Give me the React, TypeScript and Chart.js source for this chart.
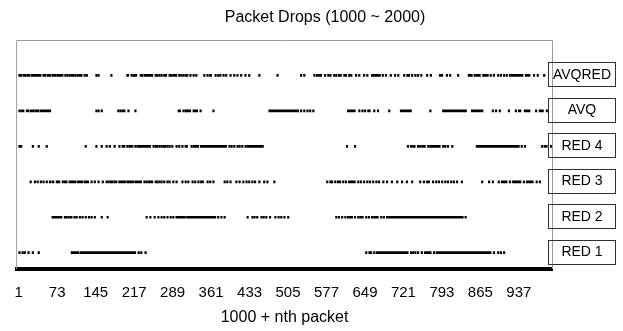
import { useEffect, useRef } from 'react';
import { Chart, registerables } from 'chart.js';

Chart.register(...registerables);

type Drop = number | [number, number];

const chartTitle = 'Packet Drops (1000 ~ 2000)';
const xAxisTitle = '1000 + nth packet';
const tickValues = [1, 73, 145, 217, 289, 361, 433, 505, 577, 649, 721, 793, 865, 937];
const rowLabels = ['AVQRED', 'AVQ', 'RED 4', 'RED 3', 'RED 2', 'RED 1'];

// packet indices (1000 + n) where a drop occurred; [a, b] = run of consecutive drops
const avqredDrops: Drop[] = [[1, 7], [9, 15], [16, 22], [24, 43], [46, 52], [54, 61], [63, 71], [72, 84], 87, 91, 95, 99, 102, 106, 110, 114, 117, 123, 127, 145, 149, 173, [203, 207], 211, 215, [218, 222], [228, 233], [235, 252], 256, 259, 263, 267, [272, 278], 282, 285, [289, 297], 300, 304, 308, 312, 315, 321, 327, 332, 347, 353, [358, 362], 368, 373, 377, 383, 388, 396, 403, 409, 416, 424, 431, 450, 484, 528, 534, 553, 558, [562, 568], 573, 579, [583, 586], 590, 594, [599, 605], 609, 612, 618, 622, 631, 637, 646, 652, [661, 678], 681, 687, 696, 704, 710, 721, 727, 730, 736, 742, 747, 753, 764, 771, 788, 792, 801, 807, 822, [842, 850], 853, [857, 865], 869, [872, 880], 883, 889, 897, 902, 908, 913, [919, 945], 949, [953, 958], 964, 971, 983];
const avqDrops: Drop[] = [[1, 3], [5, 11], [15, 20], [22, 30], [31, 39], [41, 61], 145, 149, 155, 186, 190, [194, 200], 205, 218, [299, 304], 308, 312, [315, 323], 327, [330, 336], 340, 364, [469, 525], 528, 534, 540, 545, 551, [616, 631], 637, 643, 648, [654, 659], 665, 672, 693, [715, 736], 770, [794, 839], [848, 870], 887, 893, 900, 917, 930, [936, 941], 947, [951, 958], 968, 975, [979, 983], 988];
const red4Drops: Drop[] = [[1, 7], 26, 37, 52, 125, 145, 155, 164, 170, 179, 188, [194, 200], 203, [207, 215], 218, [222, 248], 252, 256, 259, 263, 267, 271, 274, 278, 282, 287, 295, 300, 306, [312, 317], 323, [327, 338], [341, 390], 394, 398, 403, 409, 413, 418, 424, 428, [431, 459], 614, 629, 728, 734, [738, 743], 747, 751, [755, 762], 766, [770, 790], 794, 798, 803, 811, [857, 938], 941, 947, 979, [984, 990], 996];
const red3Drops: Drop[] = [22, 30, 35, 41, 46, 52, 58, [63, 67], 71, [74, 78], 82, 86, 89, [95, 108], [110, 121], [123, 132], 136, 142, 149, 157, 164, 168, 172, 175, [179, 185], [188, 201], [203, 216], [218, 231], 235, 239, [243, 252], 256, 259, 263, 267, 272, 278, 282, 289, 295, 306, 312, 317, 325, 330, 336, [341, 347], 353, 358, 364, 385, 390, 396, 407, 413, 420, 426, 431, 437, 442, 450, 459, 465, 478, 577, 583, 586, 592, 597, 601, 607, 612, [618, 631], 635, 640, 646, 652, 657, 663, 669, 674, 682, 689, 698, 708, 717, 726, 736, 751, 758, [764, 770], 775, 781, 786, 792, 798, 803, 809, 814, 820, 829, 867, 880, 887, 898, 904, [908, 915], 919, 925, [928, 941], 945, 951, [955, 964], 969, 975];
const red2Drops: Drop[] = [[63, 82], 86, 89, 93, [97, 101], 104, 108, 114, 119, 125, 131, 136, 142, 155, 166, 239, 246, 254, 261, 267, 272, 278, 284, 289, [295, 313], [315, 370], 373, 379, 385, 428, 437, 441, 446, 454, 458, 463, 470, 480, 486, 491, 497, 504, 594, 599, 605, 611, 616, [620, 626], 629, 635, [639, 646], 650, 655, 661, [665, 674], 678, 683, 689, [693, 833], 836];
const red1Drops: Drop[] = [[1, 4], 7, 11, 18, 26, 37, [99, 114], [116, 220], 224, 229, 237, 650, 656, 659, 665, 670, [674, 730], 734, 738, 742, 747, 754, [760, 773], 777, [782, 885], 889, 897, 902, 908];

const FONT = '"Liberation Sans", Arial, Helvetica, sans-serif';

export default function App() {
  const ref = useRef<HTMLCanvasElement>(null);

  useEffect(() => {
    const canvas = ref.current;
    if (!canvas) return;
    const series = [avqredDrops, avqDrops, red4Drops, red3Drops, red2Drops, red1Drops];
    const n = rowLabels.length;

    const datasets = series.map((drops, i) => ({
      label: rowLabels[i],
      data: drops.map((d) => ({ x: Array.isArray(d) ? d : [d, d + 1], y: n - i })),
      backgroundColor: '#000000',
      borderWidth: 0,
      barThickness: 2,
      minBarLength: 1.5,
      grouped: false,
    }));

    const overlay = {
      id: 'overlay',
      afterDraw(chart: any) {
        const { ctx, chartArea: a, scales } = chart;
        const ys = scales.y;
        ctx.save();
        // plot frame (left, top, right)
        ctx.strokeStyle = '#9c9c9c';
        ctx.lineWidth = 1;
        ctx.beginPath();
        const top = Math.floor(a.top) + 0.5;
        ctx.moveTo(a.left, a.bottom);
        ctx.lineTo(a.left, top);
        ctx.lineTo(a.right, top);
        ctx.lineTo(a.right, a.bottom);
        ctx.stroke();
        // row label boxes
        ctx.font = `14px ${FONT}`;
        ctx.textAlign = 'center';
        ctx.textBaseline = 'middle';
        rowLabels.forEach((label, i) => {
          const cy = ys.getPixelForValue(n - i);
          ctx.strokeStyle = '#303030';
          ctx.strokeRect(548.5, Math.round(cy - 13) + 0.5, 67, 24);
          ctx.fillStyle = '#000000';
          ctx.fillText(label, 582, cy - 0.5);
        });
        // chart title
        ctx.font = `16px ${FONT}`;
        ctx.fillStyle = '#000000';
        ctx.fillText(chartTitle, 325, 18);
        ctx.restore();
      },
    };

    const chart = new Chart(canvas, {
      type: 'bar',
      data: { datasets } as any,
      options: {
        responsive: false,
        animation: false,
        indexAxis: 'y',
        layout: { padding: { left: 15.5, right: 70.5, top: 40, bottom: 4 } },
        plugins: {
          legend: { display: false },
          tooltip: { enabled: false },
          title: { display: false },
        },
        scales: {
          x: {
            type: 'linear',
            position: 'bottom',
            min: -3,
            max: 1000,
            grid: { display: false, drawTicks: false },
            border: { display: true, color: '#000000', width: 4 },
            ticks: {
              autoSkip: false,
              maxRotation: 0,
              padding: 14.5,
              color: '#000000',
              font: { family: FONT, size: 15, lineHeight: 1.2 },
              callback: (v: any) => String(v),
            },
            afterBuildTicks: (s: any) => {
              s.ticks = tickValues.map((v) => ({ value: v }));
            },
            afterFit: (s: any) => {
              s.height = 58;
            },
            title: {
              display: true,
              text: xAxisTitle,
              color: '#000000',
              font: { family: FONT, size: 16, lineHeight: 1.2 },
              padding: 0,
            },
          },
          y: { type: 'linear', min: 0.54, max: 7, offset: false, display: false },
        },
      } as any,
      plugins: [overlay],
    });
    return () => chart.destroy();
  }, []);

  return (
    <div style={{ position: 'absolute', left: 0, top: 0, width: 623, height: 331, background: '#ffffff' }}>
      <canvas ref={ref} width={623} height={331} style={{ display: 'block' }} />
    </div>
  );
}
